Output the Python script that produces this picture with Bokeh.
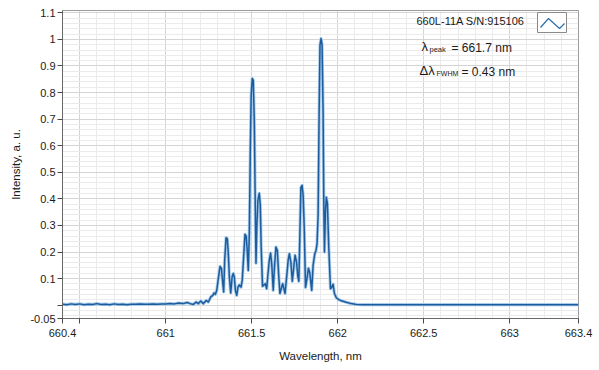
from bokeh.plotting import figure
from bokeh.models import FixedTicker, Range1d, Label
from bokeh.embed import file_html
from bokeh.resources import INLINE

# ---- data ----
wavelength = [
    660.400, 660.425, 660.450, 660.475, 660.500, 660.525, 660.550, 660.575, 660.600, 660.625,
    660.650, 660.675, 660.700, 660.725, 660.750, 660.775, 660.800, 660.825, 660.850, 660.875,
    660.900, 660.925, 660.950, 660.975, 661.000, 661.025, 661.050, 661.075, 661.100, 661.125,
    661.142, 661.161, 661.177, 661.190, 661.204, 661.219, 661.235, 661.248, 661.262, 661.274,
    661.281, 661.289, 661.297, 661.307, 661.316, 661.324, 661.332, 661.337, 661.343, 661.351,
    661.358, 661.364, 661.370, 661.378, 661.386, 661.393, 661.399, 661.405, 661.413, 661.420,
    661.428, 661.438, 661.445, 661.453, 661.461, 661.468, 661.474, 661.480, 661.486, 661.492,
    661.497, 661.503, 661.509, 661.515, 661.521, 661.525, 661.530, 661.536, 661.544, 661.550,
    661.555, 661.563, 661.579, 661.587, 661.602, 661.610, 661.617, 661.625, 661.633, 661.641,
    661.649, 661.657, 661.664, 661.680, 661.694, 661.704, 661.712, 661.719, 661.728, 661.736,
    661.744, 661.752, 661.761, 661.768, 661.774, 661.780, 661.786, 661.793, 661.799, 661.805,
    661.813, 661.820, 661.830, 661.838, 661.849, 661.857, 661.867, 661.874, 661.880, 661.886,
    661.892, 661.897, 661.903, 661.909, 661.915, 661.919, 661.923, 661.929, 661.934, 661.940,
    661.948, 661.958, 661.965, 661.973, 661.981, 661.992, 662.006, 662.021, 662.050, 662.079,
    662.108, 662.147, 662.500, 663.000, 663.400,
]
intensity = [
    0.004, 0.002, 0.005, 0.003, 0.005, 0.002, 0.004, 0.003, 0.006, 0.003,
    0.004, 0.002, 0.005, 0.003, 0.004, 0.002, 0.004, 0.004, 0.005, 0.004,
    0.004, 0.005, 0.004, 0.005, 0.005, 0.006, 0.005, 0.008, 0.006, 0.010,
    0.006, 0.003, 0.012, 0.006, 0.016, 0.006, 0.018, 0.012, 0.031, 0.037,
    0.046, 0.041, 0.056, 0.106, 0.146, 0.138, 0.081, 0.050, 0.169, 0.254,
    0.250, 0.194, 0.106, 0.046, 0.106, 0.119, 0.106, 0.056, 0.037, 0.068,
    0.076, 0.068, 0.094, 0.181, 0.267, 0.259, 0.206, 0.131, 0.263, 0.582,
    0.789, 0.853, 0.846, 0.695, 0.357, 0.158, 0.297, 0.394, 0.421, 0.376,
    0.221, 0.071, 0.081, 0.062, 0.169, 0.196, 0.150, 0.056, 0.150, 0.219,
    0.206, 0.112, 0.044, 0.081, 0.044, 0.112, 0.169, 0.194, 0.161, 0.090,
    0.139, 0.188, 0.161, 0.109, 0.090, 0.263, 0.443, 0.451, 0.413, 0.300,
    0.067, 0.094, 0.139, 0.120, 0.056, 0.150, 0.194, 0.206, 0.232, 0.338,
    0.721, 0.977, 1.003, 0.981, 0.732, 0.394, 0.200, 0.357, 0.406, 0.383,
    0.219, 0.062, 0.067, 0.079, 0.044, 0.028, 0.021, 0.017, 0.011, 0.006,
    0.003, 0.002, 0.002, 0.002, 0.002,
]

x_ticks = [660.4, 660.5, 661.0, 661.5, 662.0, 662.5, 663.0, 663.4]
x_tick_labels = ["660.4", "", "661", "661.5", "662", "662.5", "663", "663.4"]
x_grid_major = [660.5, 661.0, 661.5, 662.0, 662.5, 663.0]
x_grid_minor = [660.6, 660.7, 660.8, 660.9, 661.1, 661.2, 661.3, 661.4, 661.6, 661.7,
                661.8, 661.9, 662.1, 662.2, 662.3, 662.4, 662.6, 662.7, 662.8, 662.9,
                663.1, 663.2, 663.3]

y_ticks = [-0.05, 0.0, 0.1, 0.2, 0.3, 0.4, 0.5, 0.6, 0.7, 0.8, 0.9, 1.0, 1.1]
y_tick_labels = ["-0.05", "", "0.1", "0.2", "0.3", "0.4", "0.5", "0.6", "0.7", "0.8", "0.9", "1", "1.1"]
y_grid_major = [0.0, 0.1, 0.2, 0.3, 0.4, 0.5, 0.6, 0.7, 0.8, 0.9, 1.0, 1.1]
y_grid_minor = [-0.04, -0.02, 0.02, 0.04, 0.06, 0.08, 0.12, 0.14, 0.16, 0.18, 0.22, 0.24,
                0.26, 0.28, 0.32, 0.34, 0.36, 0.38, 0.42, 0.44, 0.46, 0.48, 0.52, 0.54,
                0.56, 0.58, 0.62, 0.64, 0.66, 0.68, 0.72, 0.74, 0.76, 0.78, 0.82, 0.84,
                0.86, 0.88, 0.92, 0.94, 0.96, 0.98, 1.02, 1.04, 1.06, 1.08]

series_name = "660L-11A S/N:915106"
peak_text = "= 661.7 nm"
fwhm_text = "= 0.43 nm"

X0, X1 = 660.4, 663.4
Y0, Y1 = -0.05, 1.1086

FONT = "Liberation Sans"
TXT = "#1a1a1a"

p = figure(width=599, height=370, x_range=Range1d(X0, X1), y_range=Range1d(Y0, Y1),
           output_backend="svg", toolbar_location=None,
           min_border_left=62, min_border_right=21, min_border_top=10, min_border_bottom=52)
p.background_fill_color = "white"
p.border_fill_color = "white"
p.outline_line_color = "#9a9a9a"
p.outline_line_width = 1

# axes
for ax in (p.xaxis[0], p.yaxis[0]):
    ax.axis_line_color = "#6a6a6a"
    ax.major_tick_line_color = "#4a4a4a"
    ax.major_tick_out = 5
    ax.major_tick_in = 0
    ax.minor_tick_out = 0
    ax.minor_tick_in = 0
    ax.major_label_text_font = FONT
    ax.major_label_text_font_size = "11px"
    ax.major_label_text_color = TXT
    ax.axis_label_text_font = FONT
    ax.axis_label_text_font_size = "11.5px"
    ax.axis_label_text_font_style = "normal"
    ax.axis_label_text_color = TXT

p.xaxis.ticker = FixedTicker(ticks=x_ticks)
p.xaxis.major_label_overrides = {t: s for t, s in zip(x_ticks, x_tick_labels)}
p.xaxis.axis_label = "Wavelength, nm"
p.xaxis.major_label_standoff = 5
p.xaxis.axis_label_standoff = 10

p.yaxis.ticker = FixedTicker(ticks=y_ticks)
p.yaxis.major_label_overrides = {t: s for t, s in zip(y_ticks, y_tick_labels)}
p.yaxis.axis_label = "Intensity, a. u."
p.yaxis.axis_label_standoff = 5
p.yaxis.major_label_standoff = 2

# grids
p.xgrid.ticker = FixedTicker(ticks=x_grid_major, minor_ticks=x_grid_minor)
p.ygrid.ticker = FixedTicker(ticks=y_grid_major, minor_ticks=y_grid_minor)
for g in (p.xgrid[0], p.ygrid[0]):
    g.grid_line_color = "#d4d4d4"
    g.grid_line_width = 1
    g.minor_grid_line_color = "#ebebeb"
    g.minor_grid_line_width = 1

# spectrum
p.line(wavelength, intensity, line_color="#a9cbea", line_width=3.2, line_join="round")
p.line(wavelength, intensity, line_color="#1c5c9c", line_width=1.5, line_join="round")

# helpers to place decorations by page pixel (frame: left 62, top 10, 516x308)
def xd(px):
    return X0 + (px - 62) * (X1 - X0) / 516.0

def yd(py):
    return Y1 - (py - 10) * (Y1 - Y0) / 308.0

# legend entry
p.add_layout(Label(x=xd(416), y=yd(20), text=series_name, text_font=FONT,
                   text_font_size="11px", text_color=TXT, text_baseline="middle"))
p.quad(left=[xd(537)], right=[xd(566)], top=[yd(12)], bottom=[yd(32)],
       fill_color="white", line_color="#8a8a8a", line_width=1)
p.line([xd(540), xd(548), xd(559), xd(564)], [yd(27), yd(18), yd(28), yd(23)],
       line_color="#2a6fb0", line_width=1.2)

# lambda peak
p.add_layout(Label(x=xd(421), y=yd(46), text="λ", text_font=FONT,
                   text_font_size="13px", text_color=TXT, text_baseline="middle"))
p.add_layout(Label(x=xd(429), y=yd(49), text="peak", text_font=FONT,
                   text_font_size="7.5px", text_color=TXT, text_baseline="middle"))
p.add_layout(Label(x=xd(451), y=yd(47), text=peak_text, text_font=FONT,
                   text_font_size="12px", text_color=TXT, text_baseline="middle"))
# delta lambda FWHM
p.add_layout(Label(x=xd(419), y=yd(70), text="Δλ", text_font=FONT,
                   text_font_size="13px", text_color=TXT, text_baseline="middle"))
p.add_layout(Label(x=xd(436), y=yd(73), text="FWHM", text_font=FONT,
                   text_font_size="7px", text_color=TXT, text_baseline="middle"))
p.add_layout(Label(x=xd(461), y=yd(71), text=fwhm_text, text_font=FONT,
                   text_font_size="12px", text_color=TXT, text_baseline="middle"))

open("out.html", "w").write(file_html(p, INLINE))
